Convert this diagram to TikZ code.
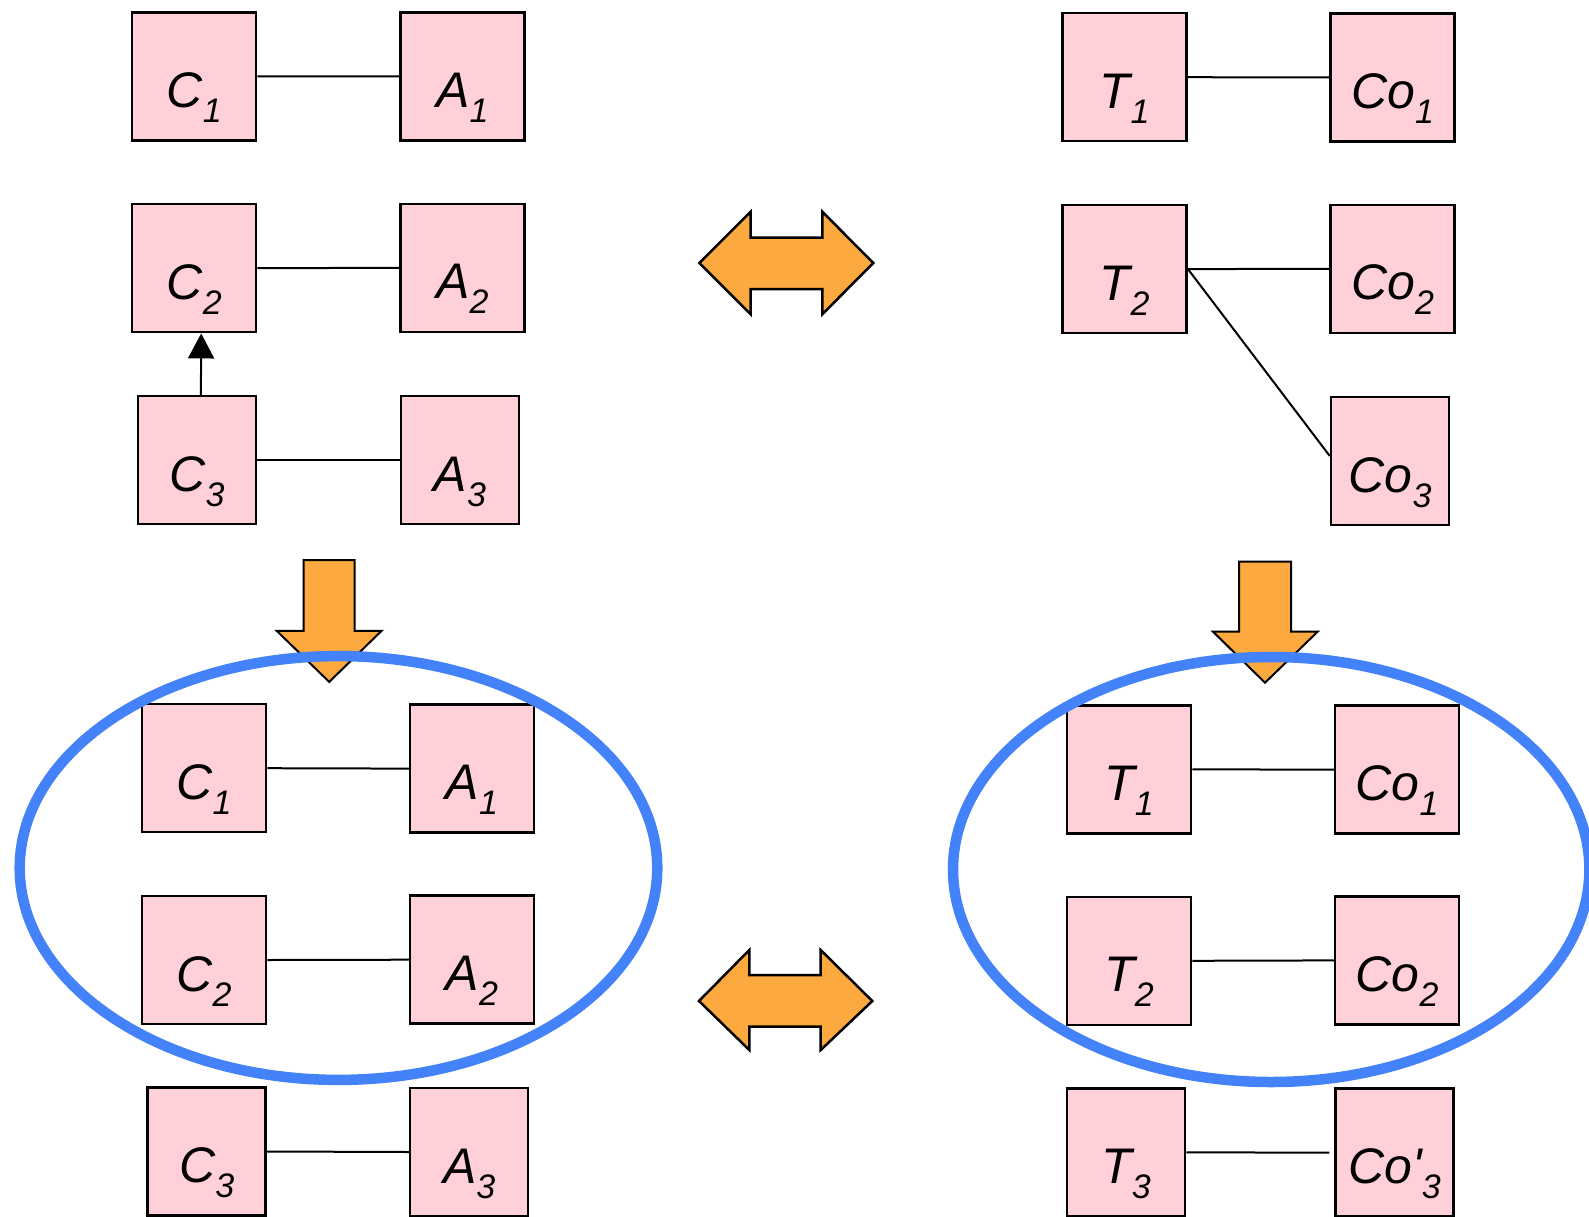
\documentclass[tikz,border=0pt]{standalone}
\usepackage{fontspec}
\setmainfont{Liberation Sans}
\usetikzlibrary{arrows.meta}
\definecolor{boxpink}{RGB}{255,208,216}
\definecolor{arrorange}{RGB}{252,170,64}
\definecolor{ringblue}{RGB}{68,130,250}
\newcommand{\boxlabel}[2]{{\fontsize{50}{50}\selectfont\itshape #1}\raisebox{-15pt}{\fontsize{34}{34}\selectfont\itshape #2}}
\begin{document}
\begin{tikzpicture}[x=1pt,y=-1pt,
  box/.style={draw=black, line width=2.5pt, fill=boxpink, minimum width=124pt, minimum height=128pt,
    inner sep=0pt, text height=80pt, text depth=18pt},
  narrow/.style={minimum width=118pt},
  link/.style={draw=black, line width=2pt},
  dblarrow/.style={draw=black, line width=2.5pt, fill=arrorange, line join=miter},
  downarrow/.style={draw=black, line width=2pt, fill=arrorange, line join=miter},
  ring/.style={draw=ringblue, line width=10.5pt}]
\useasboundingbox (0,0) rectangle (1589,1217);
\clip (0,0) rectangle (1589,1217);

% down arrows (under the rings)
\draw[downarrow] (303.6,560) -- (354.7,560) -- (354.7,630.8) -- (381.6,630.8) -- (329.2,681.9)
  -- (276.7,630.8) -- (303.6,630.8) -- cycle;
\draw[downarrow] (1239,561.5) -- (1291,561.5) -- (1291,631.7) -- (1317.6,631.7) -- (1265,682.7)
  -- (1213,631.7) -- (1239,631.7) -- cycle;

% top left
\node[box] (c1a) at (194.2,76.3) {\boxlabel{C}{1}};
\node[box] (a1a) at (462.5,76.5) {\boxlabel{A}{1}};
\node[box] (c2a) at (194.2,268.2) {\boxlabel{C}{2}};
\node[box] (a2a) at (462.5,267.8) {\boxlabel{A}{2}};
\node[box,narrow] (c3a) at (196.9,460.2) {\boxlabel{C}{3}};
\node[box,narrow] (a3a) at (459.9,460.2) {\boxlabel{A}{3}};
\draw[link] (c1a.east) -- (a1a.west);
\draw[link] (c2a.east) -- (a2a.west);
\draw[link] (c3a.east) -- (a3a.west);
\draw[line width=2pt, -{Triangle[length=25pt,width=26pt]}] ([xshift=4pt]c3a.north) -- ([xshift=7pt]c2a.south);

% top right
\node[box] (t1a) at (1124.7,77.2) {\boxlabel{T}{1}};
\node[box] (co1a) at (1392.7,77.5) {\boxlabel{Co}{1}};
\node[box] (t2a) at (1124.7,269.1) {\boxlabel{T}{2}};
\node[box] (co2a) at (1392.7,268.8) {\boxlabel{Co}{2}};
\node[box,narrow] (co3a) at (1390,461) {\boxlabel{Co}{3}};
\draw[link] (t1a.east) -- (co1a.west);
\draw[link] (t2a.east) -- (co2a.west);
\draw[link] (t2a.east) -- ([yshift=5pt]co3a.west);

% bottom left
\node[box] (c1b) at (204,768.2) {\boxlabel{C}{1}};
\node[box] (a1b) at (472,768.6) {\boxlabel{A}{1}};
\node[box] (c2b) at (204,960) {\boxlabel{C}{2}};
\node[box] (a2b) at (472,959.7) {\boxlabel{A}{2}};
\node[box,narrow] (c3b) at (206.7,1151.5) {\boxlabel{C}{3}};
\node[box,narrow] (a3b) at (469.2,1152) {\boxlabel{A}{3}};
\draw[link] (c1b.east) -- (a1b.west);
\draw[link] (c2b.east) -- (a2b.west);
\draw[link] (c3b.east) -- (a3b.west);

% bottom right
\node[box] (t1b) at (1129,769.3) {\boxlabel{T}{1}};
\node[box] (co1b) at (1397,769.7) {\boxlabel{Co}{1}};
\node[box] (t2b) at (1129,960.8) {\boxlabel{T}{2}};
\node[box] (co2b) at (1397,960.4) {\boxlabel{Co}{2}};
\node[box,narrow] (t3b) at (1126,1152.3) {\boxlabel{T}{3}};
\node[box,narrow] (co3b) at (1394.5,1152.7) {\boxlabel{Co\textquotesingle}{3}};
\draw[link] (t1b.east) -- (co1b.west);
\draw[link] (t2b.east) -- (co2b.west);
\draw[link, shorten >=5pt] (t3b.east) -- (co3b.west);

% double arrows
\draw[dblarrow] (699.3,263) -- (750.7,211.7) -- (750.7,237.7) -- (822.3,237.7) -- (822.3,211.7)
  -- (873.3,263) -- (822.3,314.3) -- (822.3,289) -- (750.7,289) -- (750.7,314.3) -- cycle;
\draw[dblarrow] (699,1001) -- (749.3,950) -- (749.3,975) -- (820.7,975) -- (820.7,950)
  -- (872.3,1001) -- (820.7,1050) -- (820.7,1026.7) -- (749.3,1026.7) -- (749.3,1050) -- cycle;

% rings
\draw[ring] (338.5,868) ellipse [x radius=318.8, y radius=211.9];
\draw[ring] (1271.2,869.5) ellipse [x radius=318.2, y radius=212.5];
\end{tikzpicture}
\end{document}
